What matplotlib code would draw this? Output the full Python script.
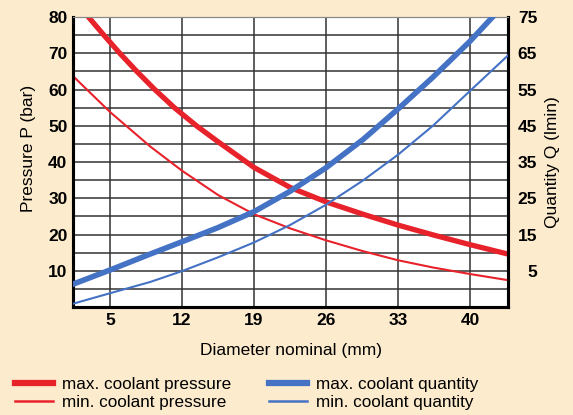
import matplotlib.pyplot as plt
from matplotlib.lines import Line2D

plt.rcParams['font.family'] = ['Liberation Sans', 'DejaVu Sans']

# diameter values (mm) and readings for each curve
d_pmax = [2.9, 4.4, 5.95, 7.6, 9.35, 11.25, 13.4, 15.5, 19, 22.5, 26, 29.6, 33, 36.4, 40, 43.7]
p_max = [80, 75, 70, 65, 60, 55, 50, 45.6, 38.5, 33.0, 29.0, 25.6, 22.6, 19.9, 17.2, 14.6]

d_pmin = [1.4, 5, 8.9, 12, 15.5, 19, 22.5, 26, 29.6, 33, 36.4, 40, 43.7]
p_min = [63.7, 53.8, 44.3, 37.6, 30.9, 25.6, 21.7, 18.4, 15.4, 12.9, 10.9, 9.1, 7.4]

d_qmax = [1.4, 5, 8.9, 12, 15.5, 19, 22.5, 26, 29.6, 33, 36.4, 40, 42.2]
q_max = [1.3, 5.2, 9.6, 13.0, 16.9, 21.3, 26.9, 33.4, 41.2, 49.6, 58.4, 68.3, 75]

d_qmin = [1.4, 5, 8.9, 12, 15.5, 19, 22.5, 26, 29.6, 33, 36.4, 40, 43.7]
q_min = [-4.1, -1.2, 1.9, 4.9, 8.7, 12.8, 17.6, 23.2, 29.9, 37.0, 45.0, 54.6, 64.4]

x_ticks = [5, 12, 19, 26, 33, 40]
p_ticks = [10, 20, 30, 40, 50, 60, 70, 80]
q_ticks = [5, 15, 25, 35, 45, 55, 65, 75]

red = '#e8222b'
blue = '#4472c4'
bg = '#fdebcd'

fig = plt.figure(figsize=(5.73, 4.15), dpi=100, facecolor=bg)
ax = fig.add_axes([73 / 573, 1 - 307 / 415, 435 / 573, 290 / 415])
ax.set_facecolor('white')
ax.set_xlim(1.4, 43.7)
ax.set_ylim(0, 80)

# grid
for v in range(5, 80, 5):
    ax.axhline(v, color='#333333', lw=1.1, zorder=1)
for v in x_ticks:
    ax.axvline(v, color='#333333', lw=1.1, zorder=1)

ax.plot(d_pmax, p_max, color=red, lw=3.8, zorder=3, solid_joinstyle='round')
ax.plot(d_pmin, p_min, color=red, lw=1.5, zorder=3)

ax2 = ax.twinx()
ax2.set_ylim(-5, 75)
ax2.plot(d_qmax, q_max, color=blue, lw=4.0, zorder=3, solid_joinstyle='round')
ax2.plot(d_qmin, q_min, color=blue, lw=1.5, zorder=3)

ax.set_xticks(x_ticks)
ax.set_yticks(p_ticks)
ax2.set_yticks(q_ticks)
ax.tick_params(length=0, labelsize=12.5, pad=4)
ax2.tick_params(length=0, labelsize=12.5, pad=21)
for lab in ax2.get_yticklabels():
    lab.set_horizontalalignment('right')
for a in (ax, ax2):
    for lab in a.get_xticklabels() + a.get_yticklabels():
        lab.set_fontweight('bold')
    for s in ('left', 'bottom', 'right'):
        a.spines[s].set_linewidth(2.2)
        a.spines[s].set_color('black')
    a.spines['top'].set_linewidth(0.8)
    a.spines['top'].set_color('#888888')

fig.text(29 / 573, 1 - 148 / 415, 'Pressure P (bar)', rotation=90,
         ha='center', va='center', fontsize=12.5)
fig.text(553 / 573, 1 - 162 / 415, 'Quantity Q (lmin)', rotation=90,
         ha='center', va='center', fontsize=12.5)
fig.text(291 / 573, 1 - 350 / 415, 'Diameter nominal (mm)',
         ha='center', va='center', fontsize=12.5)

handles = [
    Line2D([], [], color=red, lw=4.5),
    Line2D([], [], color=red, lw=1.8),
    Line2D([], [], color=blue, lw=4.5),
    Line2D([], [], color=blue, lw=1.8),
]
labels = ['max. coolant pressure', 'min. coolant pressure',
          'max. coolant quantity', 'min. coolant quantity']
fig.legend(handles, labels, ncol=2, loc='lower left',
           bbox_to_anchor=(0.0, -0.025), frameon=False, fontsize=12.3,
           handlelength=2.2, handletextpad=0.55, columnspacing=2.2,
           labelspacing=0.15)

fig.savefig('out.png', dpi=100, facecolor=bg)
